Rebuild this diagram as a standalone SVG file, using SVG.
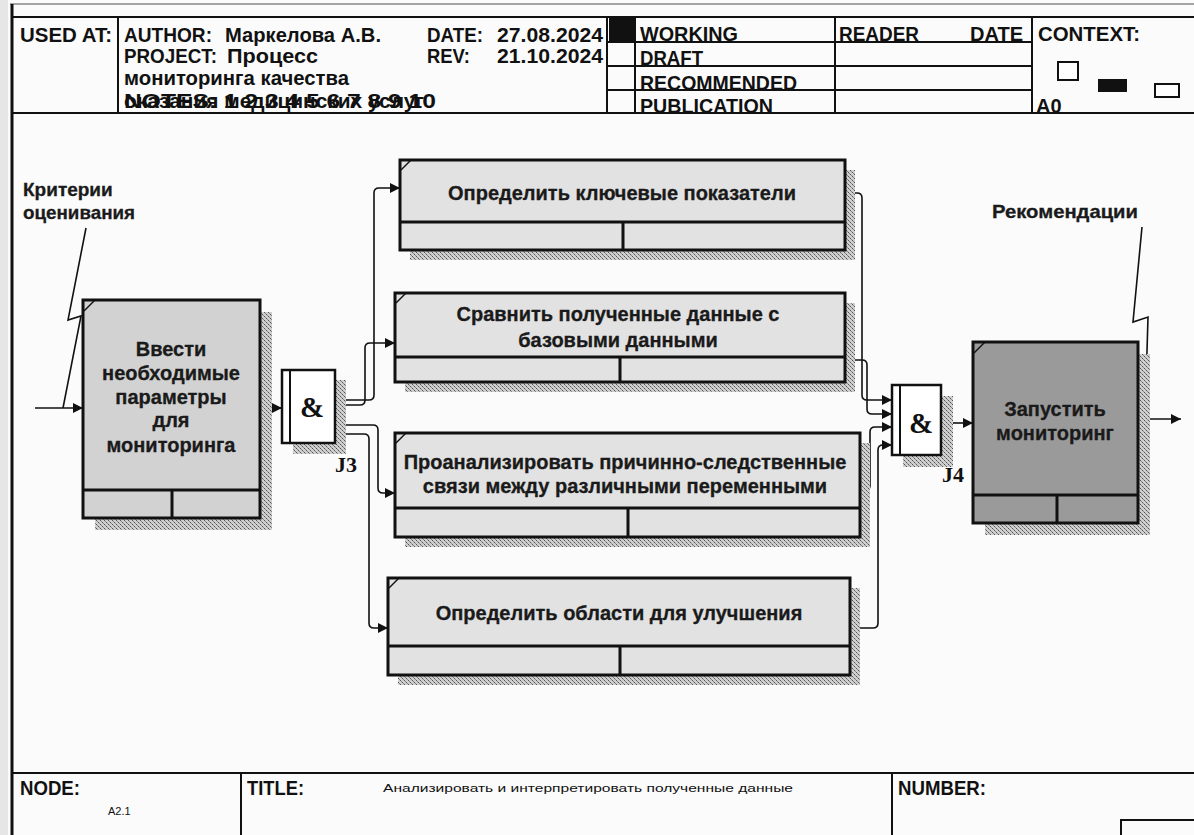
<svg xmlns="http://www.w3.org/2000/svg" width="1194" height="835" viewBox="0 0 1194 835">
<defs>
<style>
.frame{fill:none;stroke:#111;stroke-width:2}
.hdr{font-family:"Liberation Sans",Arial,sans-serif;font-weight:bold;font-size:20px;fill:#111}
.small{font-family:"Liberation Sans",Arial,sans-serif;font-size:11px;fill:#111}
.box{stroke:#111;stroke-width:3}
.lbl{font-family:"Liberation Sans",Arial,sans-serif;font-weight:bold;font-size:20px;fill:#1a1a1a;text-anchor:middle;stroke:#1a1a1a;stroke-width:0.3}
.elbl{font-family:"Liberation Sans",Arial,sans-serif;font-weight:bold;font-size:19px;fill:#1a1a1a;stroke:#1a1a1a;stroke-width:0.3}
.jn{fill:#fff;stroke:#111;stroke-width:2.5}
.amp{font-family:"Liberation Serif","Times New Roman",serif;font-weight:bold;font-size:29px;fill:#111;text-anchor:middle}
.jl{font-family:"Liberation Serif","Times New Roman",serif;font-weight:bold;font-size:22px;fill:#111}
.con{fill:none;stroke:#111;stroke-width:1.6}
.arr{marker-end:url(#ah)}
.corner{stroke:#111;stroke-width:1.5;fill:none}
</style>
<pattern id="hatch" width="4" height="4" patternUnits="userSpaceOnUse">
<rect width="4" height="4" fill="#cfcfcf"/>
<rect x="0" y="0" width="1" height="1" fill="#555"/>
<rect x="2" y="2" width="1" height="1" fill="#555"/>
<rect x="1" y="1" width="1" height="1" fill="#888"/>
<rect x="3" y="3" width="1" height="1" fill="#888"/>
</pattern>
<marker id="ah" viewBox="0 0 10 10" refX="10" refY="5" markerWidth="10" markerHeight="10" markerUnits="userSpaceOnUse" orient="auto">
<path d="M0,0 L10,5 L0,10 z" fill="#111"/>
</marker>
</defs>
<rect width="1194" height="835" fill="#fbfbfb"/>
<rect x="0" y="0" width="8" height="835" fill="#e6e6e6"/>
<line x1="10" y1="4" x2="1194" y2="4" stroke="#888" stroke-width="1.5"/>
<line x1="12" y1="4" x2="12" y2="835" stroke="#111" stroke-width="3"/>

<g id="header">
<line x1="12" y1="17" x2="1194" y2="17" class="frame"/>
<line x1="12" y1="113" x2="1194" y2="113" class="frame"/>
<line x1="118" y1="17" x2="118" y2="113" class="frame"/>
<line x1="607" y1="17" x2="607" y2="113" class="frame"/>
<line x1="635" y1="17" x2="635" y2="113" class="frame"/>
<line x1="835" y1="17" x2="835" y2="113" class="frame"/>
<line x1="1032" y1="17" x2="1032" y2="113" class="frame"/>
<line x1="607" y1="42" x2="1032" y2="42" class="frame"/>
<line x1="607" y1="66" x2="1032" y2="66" class="frame"/>
<line x1="607" y1="90" x2="1032" y2="90" class="frame"/>
<rect x="609" y="18" width="25" height="23" fill="#111"/>
<text class="hdr" x="20" y="42" textLength="92" lengthAdjust="spacingAndGlyphs">USED AT:</text>
<text class="hdr" x="124" y="42" textLength="88" lengthAdjust="spacingAndGlyphs">AUTHOR:</text>
<text class="hdr" x="225" y="42" textLength="156" lengthAdjust="spacingAndGlyphs">Маркелова А.В.</text>
<text class="hdr" x="427" y="42" textLength="56" lengthAdjust="spacingAndGlyphs">DATE:</text>
<text class="hdr" x="497" y="42" textLength="106" lengthAdjust="spacingAndGlyphs">27.08.2024</text>
<text class="hdr" x="124" y="63" textLength="93" lengthAdjust="spacingAndGlyphs">PROJECT:</text>
<text class="hdr" x="227" y="63" textLength="91" lengthAdjust="spacingAndGlyphs">Процесс</text>
<text class="hdr" x="427" y="63" textLength="43" lengthAdjust="spacingAndGlyphs">REV:</text>
<text class="hdr" x="497" y="63" textLength="106" lengthAdjust="spacingAndGlyphs">21.10.2024</text>
<text class="hdr" x="124" y="85" textLength="225" lengthAdjust="spacingAndGlyphs">мониторинга качества</text>
<text class="hdr" x="124" y="108" textLength="312" lengthAdjust="spacingAndGlyphs">NOTES:  1  2  3  4  5  6  7  8  9  10</text>
<text class="hdr" x="124" y="108" textLength="300" lengthAdjust="spacingAndGlyphs">оказания медицинских услуг</text>
<text class="hdr" x="640" y="41" textLength="98" lengthAdjust="spacingAndGlyphs">WORKING</text>
<text class="hdr" x="640" y="65" textLength="63" lengthAdjust="spacingAndGlyphs">DRAFT</text>
<text class="hdr" x="640" y="90" textLength="157" lengthAdjust="spacingAndGlyphs">RECOMMENDED</text>
<text class="hdr" x="640" y="113" textLength="133" lengthAdjust="spacingAndGlyphs">PUBLICATION</text>
<text class="hdr" x="839" y="41" textLength="80" lengthAdjust="spacingAndGlyphs">READER</text>
<text class="hdr" x="970" y="41" textLength="53" lengthAdjust="spacingAndGlyphs">DATE</text>
<text class="hdr" x="1038" y="41" textLength="102" lengthAdjust="spacingAndGlyphs">CONTEXT:</text>
<text class="hdr" x="1036" y="113">A0</text>
<rect x="1058" y="62" width="20" height="18" fill="#fff" stroke="#111" stroke-width="2"/>
<rect x="1098" y="79" width="29" height="13" fill="#111"/>
<rect x="1155" y="84" width="24" height="13" fill="#fff" stroke="#111" stroke-width="2"/>
</g>

<g id="footer">
<line x1="12" y1="773" x2="1194" y2="773" class="frame"/>
<line x1="241" y1="773" x2="241" y2="835" class="frame"/>
<line x1="892" y1="773" x2="892" y2="835" class="frame"/>
<text class="hdr" x="20" y="795" textLength="60" lengthAdjust="spacingAndGlyphs">NODE:</text>
<text class="small" x="108" y="815">A2.1</text>
<text class="hdr" x="247" y="795" textLength="57" lengthAdjust="spacingAndGlyphs">TITLE:</text>
<text class="small" x="383" y="792" textLength="410" lengthAdjust="spacingAndGlyphs">Анализировать и интерпретировать полученные данные</text>
<text class="hdr" x="898" y="795" textLength="88" lengthAdjust="spacingAndGlyphs">NUMBER:</text>
<polyline points="1121,835 1121,820 1194,820" class="frame"/>
</g>

<g id="connectors">
<polyline class="con arr" points="35,408 83,408"/>
<polyline class="con" points="86,228 68,320 81,316 63,408"/>
<polyline class="con arr" points="260,408 282,408"/>
<path class="con arr" d="M335,400 H369 Q374,400 374,395 V193 Q374,188 379,188 H400"/>
<path class="con arr" d="M335,405 H360 Q365,405 365,400 V348 Q365,343 370,343 H395"/>
<path class="con arr" d="M335,425 H373 Q378,425 378,430 V488 Q378,493 383,493 H395"/>
<path class="con arr" d="M335,434 H364 Q369,434 369,439 V623 Q369,628 374,628 H388"/>
<path class="con arr" d="M845,193 H857 Q862,193 862,198 V395 Q862,400 867,400 H892"/>
<path class="con arr" d="M845,360 H862 Q867,360 867,365 V409 Q867,414 872,414 H892"/>
<path class="con arr" d="M860,490 H865 Q870,490 870,486 V432 Q870,427 875,427 H892"/>
<path class="con arr" d="M850,628 H873 Q878,628 878,623 V450 Q878,445 883,445 H892"/>
<polyline class="con arr" points="941,423 973,423"/>
<polyline class="con arr" points="1138,419 1181,419"/>
<polyline class="con" points="1142,227 1133,322 1148,317 1145,419"/>
<text class="elbl" x="23" y="196">Критерии</text>
<text class="elbl" x="23" y="219" textLength="112" lengthAdjust="spacingAndGlyphs">оценивания</text>
<text class="elbl" x="992" y="218" textLength="146" lengthAdjust="spacingAndGlyphs">Рекомендации</text>
</g>

<g id="node-A1">
<rect x="95" y="312" width="177" height="218" fill="url(#hatch)"/>
<rect class="box" x="83" y="300" width="177" height="218" fill="#d2d2d2"/>
<line class="box" x1="83" y1="490" x2="260" y2="490"/>
<line class="box" x1="172" y1="490" x2="172" y2="518"/>
<line class="corner" x1="84" y1="311" x2="95" y2="300"/>
<text class="lbl" x="171" y="356">Ввести</text>
<text class="lbl" x="171" y="380">необходимые</text>
<text class="lbl" x="171" y="404">параметры</text>
<text class="lbl" x="171" y="427">для</text>
<text class="lbl" x="171" y="452">мониторинга</text>
</g>

<g id="junction-J3">
<rect x="293" y="380" width="53" height="74" fill="url(#hatch)"/>
<rect class="jn" x="282" y="370" width="53" height="73"/>
<line x1="290" y1="370" x2="290" y2="443" stroke="#111" stroke-width="2"/>
<text class="amp" x="312" y="417">&amp;</text>
<text class="jl" x="335" y="472">J3</text>
</g>

<g id="node-A">
<rect x="410" y="170" width="445" height="90" fill="url(#hatch)"/>
<rect class="box" x="400" y="160" width="445" height="90" fill="#e2e2e2"/>
<line class="box" x1="400" y1="222" x2="845" y2="222"/>
<line class="box" x1="623" y1="222" x2="623" y2="250"/>
<line class="corner" x1="401" y1="170" x2="411" y2="160"/>
<text class="lbl" x="622" y="200">Определить ключевые показатели</text>
</g>

<g id="node-B">
<rect x="405" y="303" width="450" height="89" fill="url(#hatch)"/>
<rect class="box" x="395" y="293" width="450" height="89" fill="#e2e2e2"/>
<line class="box" x1="395" y1="357" x2="845" y2="357"/>
<line class="box" x1="620" y1="357" x2="620" y2="382"/>
<line class="corner" x1="396" y1="303" x2="406" y2="293"/>
<text class="lbl" x="618" y="321">Сравнить полученные данные с</text>
<text class="lbl" x="618" y="347">базовыми данными</text>
</g>

<g id="node-C">
<rect x="405" y="443" width="465" height="104" fill="url(#hatch)"/>
<rect class="box" x="395" y="433" width="465" height="104" fill="#e2e2e2"/>
<line class="box" x1="395" y1="508" x2="860" y2="508"/>
<line class="box" x1="628" y1="508" x2="628" y2="537"/>
<line class="corner" x1="396" y1="443" x2="406" y2="433"/>
<text class="lbl" x="625" y="469">Проанализировать причинно-следственные</text>
<text class="lbl" x="625" y="493">связи между различными переменными</text>
</g>

<g id="node-D">
<rect x="398" y="588" width="462" height="97" fill="url(#hatch)"/>
<rect class="box" x="388" y="578" width="462" height="97" fill="#e2e2e2"/>
<line class="box" x1="388" y1="646" x2="850" y2="646"/>
<line class="box" x1="620" y1="646" x2="620" y2="675"/>
<line class="corner" x1="389" y1="588" x2="399" y2="578"/>
<text class="lbl" x="619" y="620">Определить области для улучшения</text>
</g>

<g id="junction-J4">
<rect x="903" y="396" width="50" height="71" fill="url(#hatch)"/>
<rect class="jn" x="892" y="385" width="49" height="70"/>
<line x1="900" y1="385" x2="900" y2="455" stroke="#111" stroke-width="2"/>
<text class="amp" x="921" y="433">&amp;</text>
<text class="jl" x="942" y="482">J4</text>
</g>

<g id="node-E">
<rect x="985" y="354" width="165" height="181" fill="url(#hatch)"/>
<rect class="box" x="973" y="342" width="165" height="181" fill="#9a9a9a"/>
<line class="box" x1="973" y1="495" x2="1138" y2="495"/>
<line class="box" x1="1057" y1="495" x2="1057" y2="523"/>
<line class="corner" x1="974" y1="353" x2="985" y2="342"/>
<text class="lbl" x="1055" y="416">Запустить</text>
<text class="lbl" x="1055" y="440">мониторинг</text>
</g>
</svg>
